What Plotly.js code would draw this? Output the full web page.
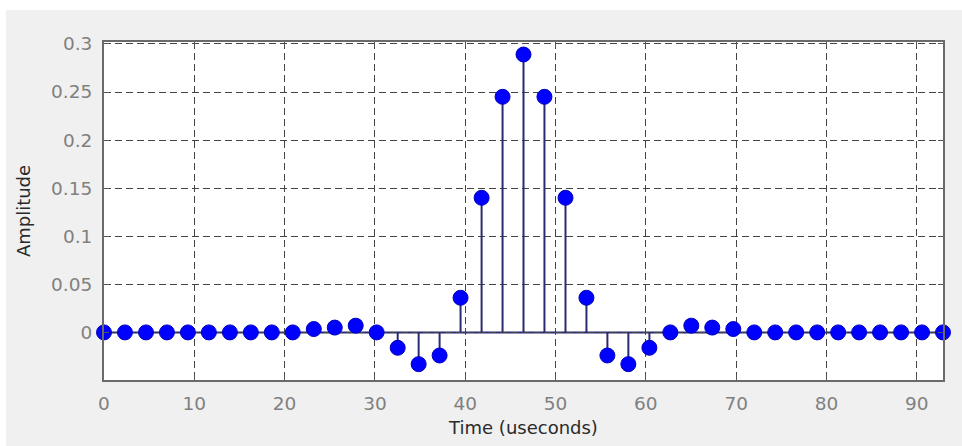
<!DOCTYPE html>
<html>
<head>
<meta charset="utf-8">
<script src="https://cdn.plot.ly/plotly-3.0.1.min.js"></script>
<style>
  html, body { margin: 0; padding: 0; background: #ffffff; width: 962px; height: 446px; overflow: hidden; }
  #wrap { position: absolute; left: 6px; top: 10px; width: 956px; height: 436px; background: #f0f0f0; }
  #chart { width: 956px; height: 436px; }
</style>
</head>
<body>
<div id="wrap"><div id="chart"></div></div>
<script>
// Sample times (useconds)
const timeUs = [0, 2.32, 4.65, 6.97, 9.29, 11.61, 13.94, 16.26, 18.58, 20.90,
  23.23, 25.55, 27.87, 30.19, 32.52, 34.84, 37.16, 39.48, 41.81, 44.13,
  46.45, 48.77, 51.10, 53.42, 55.74, 58.06, 60.39, 62.71, 65.03, 67.35,
  69.68, 72.00, 74.32, 76.64, 78.97, 81.29, 83.61, 85.93, 88.26, 90.58, 92.90];
// Amplitude of each sample
const amplitude = [0, 0, 0, 0, 0, 0, 0, 0, 0, 0,
  0.0035, 0.005, 0.007, 0, -0.016, -0.033, -0.024, 0.036, 0.14, 0.245,
  0.289, 0.245, 0.14, 0.036, -0.024, -0.033, -0.016, 0, 0.007, 0.005,
  0.0035, 0, 0, 0, 0, 0, 0, 0, 0, 0, 0];
const xTickVals = [0, 10, 20, 30, 40, 50, 60, 70, 80, 90];
const yTickVals = [0, 0.05, 0.1, 0.15, 0.2, 0.25, 0.3];
const yTickText = ['0', '0.05', '0.1', '0.15', '0.2', '0.25', '0.3'];

// stems built from the data
const stemX = [], stemY = [];
for (let i = 0; i < timeUs.length; i++) {
  stemX.push(timeUs[i], timeUs[i], null);
  stemY.push(0, amplitude[i], null);
}

const stems = {
  x: stemX, y: stemY, type: 'scatter', mode: 'lines',
  line: { color: '#2a2a70', width: 2 },
  hoverinfo: 'skip', showlegend: false, cliponaxis: false
};
const heads = {
  x: timeUs, y: amplitude, type: 'scatter', mode: 'markers',
  marker: { color: '#0000ff', size: 15, line: { color: '#0000c0', width: 1 } },
  showlegend: false, cliponaxis: false
};

const fontFam = '"DejaVu Sans", Verdana, sans-serif';
const layout = {
  width: 956, height: 436,
  margin: { l: 98, r: 19, t: 32, b: 66, pad: 0 },
  paper_bgcolor: '#f0f0f0',
  plot_bgcolor: '#ffffff',
  showlegend: false,
  xaxis: {
    range: [0, 92.9],
    tickmode: 'array', tickvals: xTickVals,
    ticks: 'inside', ticklen: 5, tickwidth: 1, tickcolor: '#555555',
    showline: true, linecolor: '#6a6a6a', linewidth: 2, mirror: 'ticks',
    showgrid: true, gridcolor: '#444444', gridwidth: 1, griddash: '7px,4px',
    zeroline: false,
    tickfont: { family: fontFam, size: 18.5, color: '#808080' },
    ticklabelstandoff: 6,
    title: { text: 'Time (useconds)', font: { family: fontFam, size: 18, color: '#2a2a2a' }, standoff: 8 }
  },
  yaxis: {
    range: [-0.0495, 0.302],
    tickmode: 'array', tickvals: yTickVals, ticktext: yTickText,
    ticks: 'inside', ticklen: 5, tickwidth: 1, tickcolor: '#555555',
    showline: true, linecolor: '#6a6a6a', linewidth: 2, mirror: 'ticks',
    showgrid: true, gridcolor: '#444444', gridwidth: 1, griddash: '7px,4px',
    zeroline: false,
    tickfont: { family: fontFam, size: 18.5, color: '#808080' },
    ticklabelstandoff: 6,
    title: { text: 'Amplitude', font: { family: fontFam, size: 18, color: '#2a2a2a' }, standoff: 16 }
  },
  shapes: [{
    type: 'line', xref: 'paper', yref: 'y', x0: 0, x1: 1, y0: 0, y1: 0,
    line: { color: '#2a2a70', width: 2 }, layer: 'below'
  }]
};

Plotly.newPlot('chart', [stems, heads], layout, { displayModeBar: false, staticPlot: true });
</script>
</body>
</html>
